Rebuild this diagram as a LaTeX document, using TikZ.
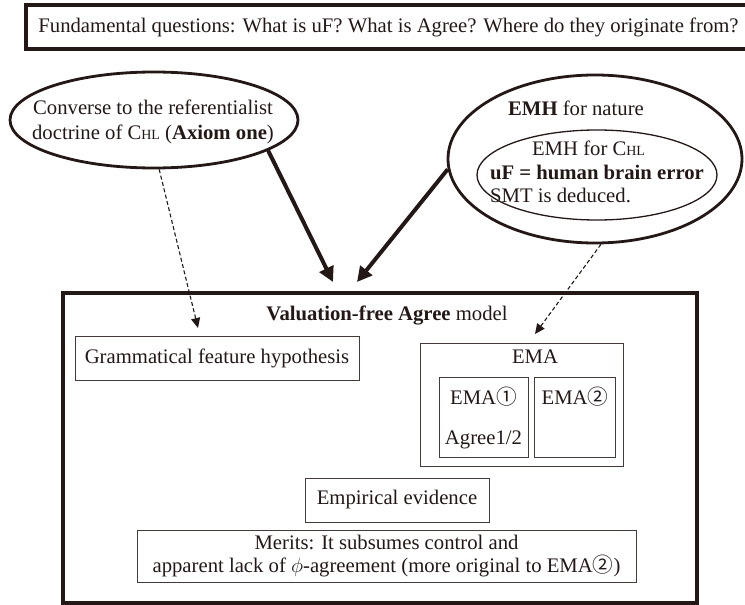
\documentclass[tikz,border=0pt]{standalone}
\usepackage{fontspec}
\setmainfont{Liberation Serif}
\newfontfamily\circfont{Noto Sans CJK JP}
\usetikzlibrary{arrows.meta,shapes.geometric}
\definecolor{ink}{HTML}{231815}
\newcommand{\chl}{C{\fontsize{14}{14}\selectfont HL}}
\newcommand{\cone}{{\circfont ①}}
\newcommand{\ctwo}{{\circfont ②}}
\begin{document}
\begin{tikzpicture}[x=1pt,y=-1pt,
  every node/.style={font=\fontsize{20.7}{23.5}\selectfont, text=ink, inner sep=0pt},
  heavybox/.style={draw=ink, line width=4pt, rectangle},
  lightbox/.style={draw=ink!85, line width=1pt, rectangle},
  oval/.style={draw=ink, line width=2.8pt, ellipse},
  thinoval/.style={draw=ink, line width=1.3pt, ellipse},
  bigarrow/.style={draw=ink, line width=4pt, -{Triangle[length=15pt,width=15pt]}},
  dasharrow/.style={draw=ink, line width=1.1pt, dash pattern=on 4pt off 2.5pt,
    -{Triangle[length=10pt,width=9pt]}}]
\useasboundingbox (0,0) rectangle (745,605);

% question banner across the top
\node[heavybox, minimum width=725, minimum height=44] (top) at (388.5,27)
  {Fundamental questions: What is uF? What is Agree? Where do they originate from?};

% left axiom ellipse
\node[oval, minimum width=288, minimum height=96] (lell) at (154,120) {};
\node[align=center, font=\fontsize{20.7}{24.5}\selectfont] (ltext) at (153,122)
  {Converse to the referentialist\\doctrine of \chl{} (\textbf{Axiom one})};

% right ellipse with nested ellipse
\node[oval, minimum width=294, minimum height=168] (rell) at (595,159) {};
\node (rtitle) at (576,108) {\textbf{EMH} for nature};
\node[thinoval, minimum width=240, minimum height=90] (iell) at (597,175) {};
\node[align=left] (itext) at (597,172)
  {\hspace*{42pt}EMH for \chl\\\textbf{uF = human brain error}\\SMT is deduced.};

% main model frame
\node[heavybox, minimum width=634, minimum height=310] (main) at (380,448) {};
\node (mtitle) at (387,315) {\textbf{Valuation-free Agree} model};

\node[lightbox, minimum width=284, minimum height=44] (gfh) at (217,358)
  {Grammatical feature hypothesis};

\node[lightbox, minimum width=203, minimum height=123] (ema) at (521.5,404.5) {};
\node (emalabel) at (535,357) {EMA};
\node[lightbox, minimum width=89, minimum height=80] (emaone) at (483.5,417) {};
\node (emaonelabel) at (483.5,397) {EMA\cone};
\node (agree) at (483.5,440) {Agree1/2};
\node[lightbox, minimum width=81, minimum height=80] (ematwo) at (574.5,417) {};
\node (ematwolabel) at (575,397) {EMA\ctwo};

\node[lightbox, minimum width=184, minimum height=44] (emp) at (397,500)
  {Empirical evidence};
\node[lightbox, minimum width=499, minimum height=52, align=center,
  font=\fontsize{20.7}{23}\selectfont] (merits) at (386.5,556)
  {Merits: It subsumes control and\\apparent lack of $\phi$-agreement (more original to EMA\ctwo)};

% connectors
\coordinate (tipa) at (333,282);
\coordinate (tipb) at (357,282);
\coordinate (tipc) at (198,328);
\coordinate (tipd) at (535,334);
\draw[bigarrow] (lell.-15) -- (tipa);
\draw[bigarrow] (rell.184) -- (tipb);
\draw[dasharrow] (lell.-84) -- (tipc);
\draw[dasharrow] (rell.-86) -- (tipd);
\end{tikzpicture}
\end{document}
